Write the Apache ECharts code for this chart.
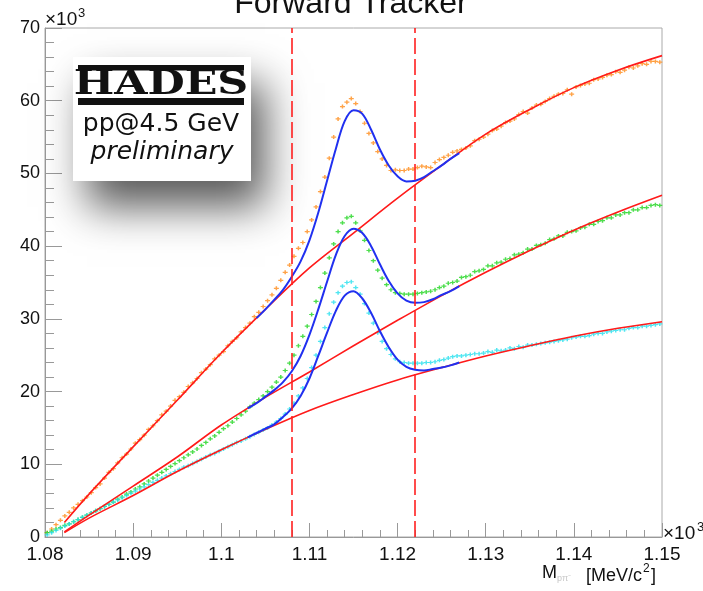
<!DOCTYPE html>
<html><head><meta charset="utf-8">
<script src="https://cdn.jsdelivr.net/npm/echarts@6/dist/echarts.min.js"></script>
<style>html,body{margin:0;padding:0;background:#fff}#c{width:703px;height:591px}</style>
</head><body><div id="c"></div>
<script>
// histogram binning (bin centres = binStart + (i+0.5)*binWidth)
const binStart = 1.08, binWidth = 0.0005;
// counts x10^3 per bin
const orangeCounts = [0.6,1.1,1.7,2.3,2.9,3.4,4.0,4.5,5.0,5.5,
 6.1,6.8,7.3,8.1,8.9,9.4,10.2,10.9,11.4,12.1,
 12.9,13.4,14.0,14.8,15.3,16.0,16.8,17.3,18.0,18.8,
 19.3,19.9,20.7,21.2,21.8,22.6,23.1,23.7,24.5,25.0,
 25.5,26.3,26.9,27.4,28.2,28.8,29.4,30.3,30.9,31.7,
 32.5,33.3,34.2,35.3,36.4,37.4,38.6,39.7,40.5,42.0,
 43.6,45.4,47.5,49.5,52.1,55.0,57.5,59.2,59.8,60.3,
 59.6,58.5,56.9,55.5,54.2,53.0,52.0,51.1,50.4,50.5,
 50.4,50.4,50.6,50.6,50.8,51.0,50.9,50.8,51.5,51.9,
 52.2,52.5,52.9,53.1,53.3,53.5,53.8,54.5,54.7,55.0,
 55.4,55.9,56.1,56.5,57.0,57.2,57.5,58.1,58.5,58.3,
 59.0,59.4,59.5,59.9,60.3,60.6,60.9,61.0,61.5,60.9,
 61.9,62.1,62.3,62.4,62.9,63.0,63.2,63.5,63.6,64.0,
 63.9,64.2,64.6,64.5,64.8,65.1,65.0,65.4,65.4,65.3];
const greenCounts = [0.6,0.8,1.1,1.3,1.6,1.8,2.1,2.4,2.7,3.0,
 3.3,3.6,3.9,4.2,4.5,4.8,5.2,5.5,5.9,6.2,
 6.6,6.9,7.3,7.7,8.1,8.5,8.9,9.3,9.7,10.1,
 10.5,10.9,11.3,11.7,12.1,12.6,13.0,13.5,13.9,14.4,
 14.9,15.3,15.8,16.3,16.8,17.3,17.9,18.4,18.9,19.4,
 20.0,20.6,21.3,22.0,22.9,23.9,25.0,26.3,27.6,29.0,
 30.6,32.4,34.3,36.3,38.4,40.3,42.0,43.2,43.9,44.1,
 43.2,42.1,40.8,39.4,38.0,36.7,35.6,34.7,34.0,33.6,
 33.5,33.4,33.4,33.4,33.5,33.6,33.7,33.8,34.0,34.3,
 34.5,34.9,35.0,35.2,35.7,35.8,36.0,36.5,36.6,36.8,
 37.3,37.3,37.7,37.8,38.2,38.3,38.8,38.9,39.1,39.6,
 39.6,40.1,40.2,40.4,40.9,41.0,41.4,41.4,41.9,42.0,
 42.1,42.5,42.6,43.0,43.0,43.4,43.5,43.9,43.9,44.3,
 44.3,44.6,44.6,45.0,45.0,45.3,45.3,45.6,45.7,45.6];
const cyanCounts = [0.3,0.6,0.9,1.2,1.5,1.8,2.1,2.4,2.7,3.0,
 3.3,3.6,3.9,4.2,4.5,4.8,5.1,5.4,5.7,6.0,
 6.3,6.6,6.9,7.2,7.5,7.8,8.1,8.4,8.7,9.0,
 9.3,9.6,9.8,10.1,10.4,10.7,11.0,11.3,11.5,11.8,
 12.1,12.4,12.7,13.0,13.2,13.5,13.8,14.1,14.4,14.7,
 15.0,15.4,15.8,16.3,16.9,17.6,18.4,19.4,20.5,21.8,
 23.3,25.0,26.9,28.8,30.7,32.3,33.6,34.5,35.0,35.1,
 34.3,33.4,32.1,30.8,29.4,28.1,26.9,25.9,25.1,24.5,
 24.1,24.0,23.9,23.9,23.9,23.9,24.0,24.0,24.1,24.3,
 24.4,24.6,24.8,24.9,24.9,25.0,25.1,25.2,25.2,25.3,
 25.5,25.4,25.7,25.6,25.7,26.0,25.9,26.2,26.1,26.4,
 26.4,26.5,26.6,26.7,26.8,26.9,27.0,27.1,27.2,27.4,
 27.5,27.6,27.6,27.7,27.9,28.0,28.0,28.2,28.3,28.4,
 28.5,28.5,28.7,28.8,28.8,29.0,29.0,29.1,29.2,29.3];

// background fits (red)
const bgX      = [1.0822,1.085,1.09,1.095,1.10,1.105,1.11,1.115,1.12,1.125,1.13,1.135,1.14,1.145,1.15];
const bgOrange = [2.0,5.9,12.4,18.8,25.3,31.3,37.0,41.8,46.6,51.1,55.4,58.8,61.8,64.2,66.2];
const bgGreen  = [0.7,3.0,7.0,11.0,15.4,19.2,22.7,26.3,29.8,33.2,36.4,39.4,42.2,44.7,47.0];
const bgCyan   = [0.6,2.6,5.7,9.0,12.0,14.8,17.4,19.6,21.6,23.3,24.9,26.3,27.6,28.7,29.6];

// total fits (blue)
const fitOrangeX = [1.104,1.105,1.106,1.107,1.108,1.109,1.110,1.111,1.112,1.113,1.114,1.115,1.116,1.117,1.118,1.119,1.120,1.121,1.122,1.123,1.124,1.125,1.126,1.127];
const fitOrange  = [30.1,31.3,32.6,34.0,35.8,37.9,40.8,44.6,49.0,53.4,57.2,58.7,58.2,56.0,53.3,51.1,49.6,48.9,49.0,49.5,50.3,51.1,52.0,52.8];
const fitGCX  = [1.103,1.104,1.105,1.106,1.107,1.108,1.109,1.110,1.111,1.112,1.113,1.114,1.115,1.116,1.117,1.118,1.119,1.120,1.121,1.122,1.123,1.124,1.125,1.126,1.127];
const fitGreen = [17.7,18.4,19.3,20.2,21.3,22.8,24.9,27.8,31.3,35.1,38.8,41.4,42.4,41.8,40.0,37.5,35.2,33.5,32.5,32.2,32.3,32.7,33.3,33.8,34.5];
const fitCyan  = [13.7,14.3,14.9,15.5,16.5,17.7,19.4,21.8,24.9,28.1,31.1,33.2,33.8,32.8,30.8,28.3,26.1,24.4,23.4,23.0,22.9,23.1,23.3,23.6,24.0];

const cutLines = [1.108, 1.122];
const xMin = 1.08, xMax = 1.15, xStep = 0.01;
const yMin = 0, yMax = 70, yStep = 10;

const pairs = (xs, ys) => ys.map((v, i) => [xs[i], v]);
const hist = arr => arr.map((v, i) => [binStart + (i + 0.5) * binWidth, v]);
const plus = 'path://M0,3.5H10V6.5H0Z M3.5,0H6.5V10H3.5Z';

const chart = echarts.init(document.getElementById('c'), null, {renderer: 'canvas'});
const scat = (name, data, color) => ({
  name, type: 'scatter', data: hist(data), symbol: plus, symbolSize: [5, 4],
  itemStyle: {color}, z: 2, silent: true, animation: false
});
const line = (name, data, color, w, z) => ({
  name, type: 'line', data, showSymbol: false, symbol: 'none', smooth: 0.35,
  lineStyle: {color, width: w}, z, silent: true, animation: false
});

const option = {
  animation: false,
  backgroundColor: '#fff',
  grid: {left: 45, right: 41, top: 28, bottom: 54, show: true, borderColor: '#aaa', borderWidth: 1, outerBoundsMode: 'none', containLabel: false},
  xAxis: {
    type: 'value', min: xMin, max: xMax, interval: xStep,
    axisLine: {show: true, onZero: false, lineStyle: {color: '#999', width: 1}},
    axisTick: {show: true, inside: true, length: 14, lineStyle: {color: '#999'}},
    minorTick: {show: true, splitNumber: 5, length: 7, lineStyle: {color: '#999'}},
    splitLine: {show: false},
    axisLabel: {color: '#111', fontSize: 19, fontFamily: 'Liberation Sans', margin: 8,
      formatter: v => String(Math.round(v * 100) / 100)}
  },
  yAxis: {
    type: 'value', min: yMin, max: yMax, interval: yStep,
    axisLine: {show: true, onZero: false, lineStyle: {color: '#999', width: 1}},
    axisTick: {show: true, inside: true, length: 17, lineStyle: {color: '#999'}},
    minorTick: {show: true, splitNumber: 5, length: 9, lineStyle: {color: '#999'}},
    splitLine: {show: false},
    axisLabel: {color: '#111', fontSize: 18, fontFamily: 'Liberation Sans', margin: 5}
  },
  series: [
    scat('orange', orangeCounts, '#ff8c1a'),
    scat('green', greenCounts, '#22d622'),
    scat('cyan', cyanCounts, '#26e0ee'),
    Object.assign(line('bgO', pairs(bgX, bgOrange), '#ff1a1a', 1.6, 3), {
      markLine: {silent: true, symbol: 'none', precision: 4, label: {show: false},
        lineStyle: {color: '#ff2020', width: 1.6, type: [16, 5]},
        data: cutLines.map(x => ({xAxis: x}))}
    }),
    line('bgG', pairs(bgX, bgGreen), '#ff1a1a', 1.6, 3),
    line('bgC', pairs(bgX, bgCyan), '#ff1a1a', 1.6, 3),
    line('fitO', pairs(fitOrangeX, fitOrange), '#2030f0', 2, 4),
    line('fitG', pairs(fitGCX, fitGreen), '#2030f0', 2, 4),
    line('fitC', pairs(fitGCX, fitCyan), '#2030f0', 2, 4)
  ],
  graphic: [
    {type: 'text', x: 351, y: 20, style: {text: 'Forward Tracker', fill: '#111', font: '32px "Liberation Sans"', align: 'center', verticalAlign: 'bottom'}},
    {type: 'text', x: 45, y: 29, style: {text: '×10', fill: '#111', font: '19px "Liberation Sans"', align: 'left', verticalAlign: 'bottom'}},
    {type: 'text', x: 78, y: 20, style: {text: '3', fill: '#111', font: '13px "Liberation Sans"', align: 'left', verticalAlign: 'bottom'}},
    {type: 'text', x: 663, y: 543, style: {text: '×10', fill: '#111', font: '19px "Liberation Sans"', align: 'left', verticalAlign: 'bottom'}},
    {type: 'text', x: 697, y: 534, style: {text: '3', fill: '#111', font: '13px "Liberation Sans"', align: 'left', verticalAlign: 'bottom'}},
    {type: 'text', x: 542, y: 582, style: {text: 'M', fill: '#111', font: '18px "Liberation Sans"', align: 'left', verticalAlign: 'bottom'}},
    {type: 'text', x: 557, y: 583, style: {text: 'pπ⁻', fill: '#c8c8c8', font: '9px "Liberation Sans"', align: 'left', verticalAlign: 'bottom'}},
    {type: 'text', x: 586, y: 585, style: {text: '[MeV/c', fill: '#111', font: '18px "Liberation Sans"', align: 'left', verticalAlign: 'bottom'}},
    {type: 'text', x: 643, y: 575, style: {text: '2', fill: '#111', font: '12px "Liberation Sans"', align: 'left', verticalAlign: 'bottom'}},
    {type: 'text', x: 651, y: 585, style: {text: ']', fill: '#111', font: '18px "Liberation Sans"', align: 'left', verticalAlign: 'bottom'}},
    // HADES label box with drop shadow
    {type: 'rect', z: 1, shape: {x: 73, y: 57, width: 178, height: 124},
      style: {fill: '#fff', shadowBlur: 40, shadowColor: 'rgba(0,0,0,0.65)', shadowOffsetX: 14, shadowOffsetY: 26}},
    {type: 'rect', z: 2, shape: {x: 78, y: 65, width: 166, height: 5.5}, style: {fill: '#111'}},
    {type: 'rect', z: 2, shape: {x: 78, y: 98, width: 166, height: 7}, style: {fill: '#111'}},
    {type: 'text', z: 2, x: 161, y: 85, scaleX: 1.3, scaleY: 1,
      style: {text: 'HADES', fill: '#111', font: 'bold 33px "DejaVu Serif"', align: 'center', verticalAlign: 'middle'}},
    {type: 'text', z: 2, x: 161, y: 124, style: {text: 'pp@4.5 GeV', fill: '#111', font: '25px "DejaVu Sans"', align: 'center', verticalAlign: 'middle'}},
    {type: 'text', z: 2, x: 162, y: 152, style: {text: 'preliminary', fill: '#111', font: 'italic 25px "DejaVu Sans"', align: 'center', verticalAlign: 'middle'}}
  ]
};
chart.setOption(option);
</script>
</body></html>
